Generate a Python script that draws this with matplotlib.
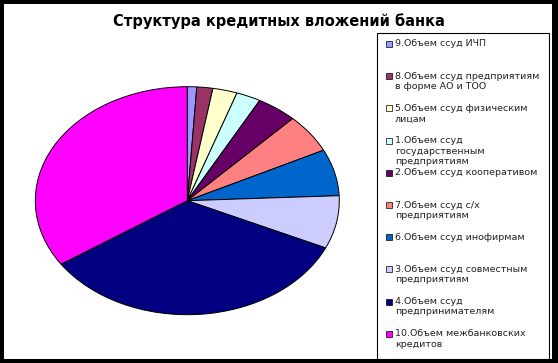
import matplotlib
matplotlib.use("Agg")
import matplotlib.pyplot as plt
from matplotlib.patches import Rectangle

# данные диаграммы (доли, %), в порядке обхода по часовой стрелке от 12 часов
labels = [
    "9.Объем ссуд ИЧП",
    "8.Объем ссуд предприятиям\nв форме АО и ТОО",
    "5.Объем ссуд физическим\nлицам",
    "1.Объем ссуд\nгосударственным\nпредприятиям",
    "2.Объем ссуд кооперативом",
    "7.Объем ссуд с/х\nпредприятиям",
    "6.Объем ссуд инофирмам",
    "3.Объем ссуд совместным\nпредприятиям",
    "4.Объем ссуд\nпредпринимателям",
    "10.Объем межбанковских\nкредитов",
]
shares = [1.0, 1.7, 2.6, 2.6, 4.3, 5.5, 6.6, 7.5, 33.8, 34.4]
colors = ["#9999FF", "#993366", "#FFFFCC", "#CCFFFF", "#660066",
          "#FF8080", "#0066CC", "#CCCCFF", "#000080", "#FF00FF"]
title = "Структура кредитных вложений банка"

W, H = 558, 363
fig = plt.figure(figsize=(W / 100, H / 100), dpi=100, facecolor="black")

# белое поле внутри черной рамки
fig.patches.append(Rectangle((4 / W, 4 / H), (W - 10) / W, (H - 8) / H,
                             transform=fig.transFigure, facecolor="white",
                             edgecolor="none", zorder=-10))

fig.text(279 / W, 1 - 21 / H, title, ha="center", va="center",
         fontsize=10.5, fontweight="bold", family="DejaVu Sans")

# пирог в виде эллипса: оси без равного масштаба
ax = fig.add_axes([35.3 / W, 1 - 314.7 / H, 304 / W, 228 / H])
ax.set_zorder(5)
ax.pie(shares, colors=colors, startangle=90, counterclock=False, radius=1,
       wedgeprops=dict(edgecolor="black", linewidth=0.7))
ax.set_aspect("auto")
ax.set_xlim(-1, 1)
ax.set_ylim(-1, 1)
ax.axis("off")

# легенда вручную: маркер по первой строке подписи
fig.patches.append(Rectangle((377 / W, 1 - 359 / H), (549 - 377) / W, (359 - 33) / H,
                             transform=fig.transFigure, facecolor="white",
                             edgecolor="black", linewidth=0.8, zorder=1))
for i, (lab, col) in enumerate(zip(labels, colors)):
    y = 44 + i * 32.2
    fig.patches.append(Rectangle((386 / W, 1 - (y + 3) / H), 6 / W, 6 / H,
                                 transform=fig.transFigure, facecolor=col,
                                 edgecolor="black", linewidth=0.5, zorder=2))
    fig.text(395 / W, 1 - (y - 4.5) / H, lab, ha="left", va="top",
             fontsize=6.8, linespacing=1.2, family="DejaVu Sans",
             color="#222222", zorder=3)

fig.savefig("out.png", dpi=100, facecolor="black")
